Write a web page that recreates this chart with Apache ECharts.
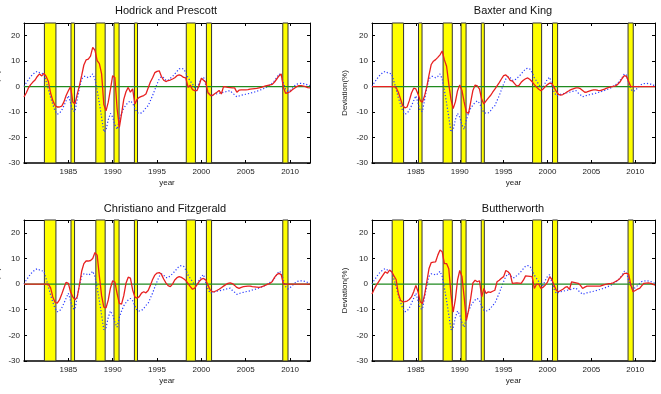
<!DOCTYPE html>
<html>
<head>
<meta charset="utf-8">
<script src="https://cdn.jsdelivr.net/npm/echarts@6/dist/echarts.min.js"></script>
<style>
  html, body { margin: 0; padding: 0; background: #fff; }
  #chart { width: 661px; height: 394px; }
</style>
</head>
<body>
<div id="chart"></div>
<script>
// quarterly data, first value = 1980Q1
const startYear = 1980;

// original series (blue dotted), same in every panel
const original = [
  0, 1.5, 2.7, 4,          // 1980
  4.8, 5.6, 6, 5.5,        // 1981
  5.2, 5, 2, -1,           // 1982
  -4.3, -7, -9.5, -10.8,   // 1983
  -10.5, -9.3, -7.5, -5.5, // 1984
  -3.6, -6.5, -9.5, -9.8,  // 1985
  -5, -0.5, 3, 4,          // 1986
  4, 3.5, 4, 5,            // 1987
  3, -1.5, -6.5, -12,      // 1988
  -17.8, -17, -13, -10.5,  // 1989
  -12, -15, -16.8, -13,    // 1990
  -10.5, -8.5, -7.2, -6.2, // 1991
  -5.6, -6.5, -8.5, -10.2, // 1992
  -10.5, -10.3, -9.5, -8.3,// 1993
  -7.5, -5.5, -3.5, -1.2,  // 1994
  1, 3, 4, 3.5,            // 1995
  2.5, 2.5, 3.3, 4,        // 1996
  5, 6, 7, 7.2,            // 1997
  6.9, 5.5, 3.5, 2.2,      // 1998
  1, -0.3, -0.5, 1.5,      // 1999
  3, 3.7, 0.5, -2,         // 2000
  -3.6, -3.3, -3, -2.8,    // 2001
  -2.6, -2.4, -2.2, -2,    // 2002
  -1.7, -1.6, -2.5, -3.2,  // 2003
  -4, -3.7, -3.4, -3.2,    // 2004
  -3, -2.8, -2.6, -2.3,    // 2005
  -2.1, -1.8, -1.5, -1.2,  // 2006
  -0.8, -0.4, 0.2, 0.7,    // 2007
  1.4, 2.3, 3.6, 5,        // 2008
  4.5, 1.5, -1, -1.9,      // 2009
  -1.4, -0.6, 0.3, 1,      // 2010
  1.2, 1.3, 1.2, 1,        // 2011
  0.6, 0.4                 // 2012
];

const hodrickPrescott = [
  -4, -2.5, -0.5, 0.8,
  1.8, 2.6, 4, 5,
  4.2, 5.2, 4, 2,
  -2.5, -5.5, -7.4, -8,
  -8, -7.7, -6, -3.5,
  -1.6, 0, -6, -6.8,
  -3, 0.4, 4.3, 8.5,
  10.5, 10.8, 12, 15.4,
  14.3, 10.2, 9, 5,
  -7, -9.5, -6.1, -1,
  4.3, 3.6, -8.7, -16,
  -10.7, -5, -2, -0.3,
  -2.2, -0.9, -6.8, -5,
  -4.2, -3.8, -3.5, -2.9,
  -0.5, 1.8, 3.5, 5.5,
  6, 6.2, 4, 2.5,
  2, 2.4, 2.6, 3,
  3.5, 4.3, 4.6, 4.3,
  3.6, 3.4, -0.3, 0.6,
  -1.2, -1.6, -1.6, 0.5,
  3.3, 2.5, 1.7, -2.5,
  -3.3, -3.5, -2.8, -2.2,
  -1.5, -2.9, 0, -0.1,
  -0.3, -0.4, -0.5, -0.5,
  -2.2, -1.4, -1.3, -1.3,
  -1.3, -1.2, -1, -0.9,
  -0.8, -0.7, -0.5, -0.3,
  0, 0.3, 0.5, 0.7,
  0.9, 1.8, 3, 4.2,
  5, -0.3, -2.6, -2.4,
  -2, -1.2, -0.6, 0,
  0.4, 0.4, 0.2, 0,
  -0.4, -0.5
];

const baxterKing = [
  0, 0, 0, 0,
  0, 0, 0, 0,
  0, 0, 0, -0.3,
  -2.2, -4.8, -7.5, -8.3,
  -8, -5.5, -2.5, -0.6,
  -0.9, -3, -5.5, -6.1,
  -3.5, 0, 4.6, 8.7,
  10, 10.6, 11.5, 12.5,
  14, 10.5, 8, 1,
  -5, -8.6, -6, -1.6,
  0.6, -1.5, -6, -10,
  -10.5, -6, -1.5, 0.6,
  0.3, -1, -5, -6.8,
  -5.6, -4.5, -3.5, -2.2,
  -1, 0.3, 1.6, 3,
  4.3, 4.6, 3.8, 2.5,
  2.2, 1.2, 0.2, 0.5,
  1.7, 2.5, 3.1, 3.4,
  2.8, 1.9, 0.8, -0.2,
  -1, -1.6, -0.9, 0,
  0.8, 1.4, 1.2, -0.3,
  -1.9, -3, -3.3, -3.1,
  -2.6, -2, -1.5, -1.1,
  -0.8, -0.5, -0.5, -0.8,
  -1.5, -2.2, -2.1, -1.8,
  -1.5, -1.3, -1.3, -1.5,
  -1.6, -1.3, -1, -0.6,
  -0.3, -0.1, 0.1, 0.3,
  0.9, 1.8, 3.2, 4.3,
  4, 2, 0, 0,
  0, 0, 0, 0,
  0, 0, 0, 0,
  0, 0
];

const christianoFitzgerald = [
  0, 0, 0, 0,
  0, 0, 0, 0,
  0, 0, 0, 0,
  -1.5, -5, -7.1, -7.4,
  -6.2, -4, -1.5, 0.7,
  0.3, -3, -5, -6.2,
  -5, -0.4, 5, 8,
  9, 9, 9.2, 10,
  12.3, 11.3, 3, -4.5,
  -9, -9.3, -6.2, -1.5,
  1.3, 0.8, -3.7, -7.5,
  -7.8, -4.5, 0.3, 2.7,
  2.3, -2.3, -5, -5.5,
  -4.9, -3.5, -3, -3.4,
  -2.5, -0.5, 1.8, 3.5,
  4.3, 4.5, 3.8, 2,
  0.5, -0.6, -1, 0,
  1.6, 2.5, 2.9, 2.6,
  2.1, 1.4, 0.2, -1,
  -2, -1.6, -0.3, 1,
  1.9, 2.2, 1.6, -0.5,
  -2.3, -3, -2.9, -2.5,
  -2, -1.4, -0.8, -0.2,
  0.3, 0.5, 0.2, -0.5,
  -1.3, -1.7, -1.3, -1,
  -0.9, -0.8, -0.8, -1,
  -1.1, -1.2, -1.3, -1.1,
  -0.8, -0.4, 0, 0.3,
  1, 2.6, 3.7, 4.2,
  3.7, 0, 0, 0,
  0, 0, 0, 0,
  0, 0, 0, 0,
  0, 0
];

const butterworth = [
  -3.9, -2, -0.4, 0.9,
  2.2, 3.5, 4.8, 4.2,
  5.5, 4.8, 3.2, 1.8,
  -3.7, -6.3, -6.9, -6.8,
  -6.6, -6, -5, -3,
  -0.5, -3, -6.9, -7.6,
  -4, 1, 6.1, 8.4,
  8.6, 8.7, 11.3, 13.3,
  12.6, 8, 8, 6,
  -4, -10.9, -6, 1.6,
  5.3, 3, -5, -14.2,
  -10.3, -5.5, 0.5, 1.5,
  0.9, 1.3, -5, -1.7,
  -3.7, -3, -3.2, -2.8,
  -2.4, 0.9, 1.5, 2.3,
  2.9, 5.3, 4.8, 3.9,
  0.3, 0.4, 0.5, 0.4,
  0.3, 1.5, 3.2, 3.1,
  3, 2.9, -1.7, 0,
  0, -1.7, -1.2, -0.4,
  0.8, 2.9, 1.8, -0.5,
  -2.4, -3, -2.5, -2,
  -1.3, -1, -2.1, 0.9,
  0.7, 0.5, 0.3, -0.5,
  -1.7, -1.2, -0.8, -0.8,
  -0.8, -0.8, -0.8, -0.8,
  -0.8, -0.5, -0.2, 0,
  0.2, 0.3, 0.5, 1,
  1.5, 2.2, 3.2, 4.2,
  4.2, 3.9, -0.4, -3,
  -2.5, -2, -1.7, -0.6,
  0.3, 0.4, 0.5, 0.3,
  0, -0.4
];

// recession bands (start, end) in years
const recessionStart = [1982.3, 1985.3, 1988.1, 1990.15, 1992.45, 1998.3, 2000.57, 2009.18];
const recessionEnd   = [1983.6, 1985.7, 1989.15, 1990.72, 1992.8, 1999.33, 2001.15, 2009.77];

const xMin = 1980, xMax = 2012.25;
const yMin = -30, yMax = 25;

const titles = ["Hodrick and Prescott", "Baxter and King", "Christiano and Fitzgerald", "Buttherworth"];
const filtered = [hodrickPrescott, baxterKing, christianoFitzgerald, butterworth];

const panels = [
  { left: 24, top: 23, width: 286, height: 140, cx: 166, ty: 5 },
  { left: 372, top: 23, width: 283, height: 140, cx: 513, ty: 5 },
  { left: 24, top: 220, width: 286, height: 141, cx: 165, ty: 203 },
  { left: 372, top: 220, width: 283, height: 141, cx: 513, ty: 203 }
];

const font = "'Liberation Sans', Arial, Helvetica, sans-serif";
const toPairs = (vals) => vals.map((v, i) => [startYear + i / 4, v]);
const bands = recessionStart.map((s, i) => [{ xAxis: s }, { xAxis: recessionEnd[i] }]);

const chart = echarts.init(document.getElementById("chart"));

const grid = [], xAxis = [], yAxis = [], series = [], graphic = [];

panels.forEach((p, g) => {
  grid.push({
    left: p.left, top: p.top, width: p.width, height: p.height,
    containLabel: false, outerBoundsMode: "none"
  });

  const tick = { show: true, inside: true, length: 3, lineStyle: { color: "#000", width: 1 } };
  // bottom axis with labels
  xAxis.push({
    type: "value", gridIndex: g, min: xMin, max: xMax, interval: 5,
    name: "year", nameLocation: "middle", nameGap: 16,
    nameTextStyle: { fontFamily: font, fontSize: 8, color: "#222" },
    axisLine: { onZero: false, lineStyle: { color: "#000", width: 1.5 } },
    axisTick: tick,
    axisLabel: {
      fontFamily: font, fontSize: 8, color: "#222", margin: 5,
      showMinLabel: false, showMaxLabel: false,
      formatter: (v) => String(v)
    },
    splitLine: { show: false }
  });
  // top mirror
  xAxis.push({
    type: "value", gridIndex: g, position: "top", min: xMin, max: xMax, interval: 5,
    axisLine: { onZero: false, lineStyle: { color: "#000", width: 1 } },
    axisTick: tick, axisLabel: { show: false }, splitLine: { show: false }
  });
  yAxis.push({
    type: "value", gridIndex: g, min: yMin, max: yMax, interval: 10,
    name: "Deviation(%)", nameLocation: "middle", nameGap: 23,
    nameTextStyle: { fontFamily: font, fontSize: 8, color: "#222" },
    axisLine: { show: true, onZero: false, lineStyle: { color: "#000", width: 1 } },
    axisTick: tick,
    axisLabel: { fontFamily: font, fontSize: 8, color: "#222", margin: 4, showMaxLabel: false },
    splitLine: { show: false }
  });
  yAxis.push({
    type: "value", gridIndex: g, position: "right", min: yMin, max: yMax, interval: 10,
    axisLine: { show: true, onZero: false, lineStyle: { color: "#000", width: 1 } },
    axisTick: tick, axisLabel: { show: false }, splitLine: { show: false }
  });

  const xi = g * 2, yi = g * 2;

  series.push({
    type: "line", xAxisIndex: xi, yAxisIndex: yi, z: 2,
    data: toPairs(original), showSymbol: false, silent: true,
    lineStyle: { color: "#2a3cff", width: 1.2, type: [1.2, 2] },
    markArea: {
      silent: true,
      label: { show: false },
      itemStyle: { color: "#ffff00", borderColor: "#333", borderWidth: 1 },
      data: bands
    }
  });
  series.push({
    type: "line", xAxisIndex: xi, yAxisIndex: yi, z: 3,
    data: [[xMin, 0], [xMax, 0]], showSymbol: false, silent: true,
    lineStyle: { color: "#1f8a1f", width: 1.1 }
  });
  series.push({
    type: "line", xAxisIndex: xi, yAxisIndex: yi, z: 4,
    data: toPairs(filtered[g]), showSymbol: false, silent: true,
    lineStyle: { color: "#e82020", width: 1.3 }
  });

  graphic.push({
    type: "text", x: p.cx, y: p.ty,
    style: { text: titles[g], font: "11px " + font, fill: "#111", align: "center", verticalAlign: "top" }
  });
});

const option = {
  animation: false,
  backgroundColor: "#fff",
  grid: grid,
  xAxis: xAxis,
  yAxis: yAxis,
  series: series,
  graphic: graphic
};

chart.setOption(option);
</script>
</body>
</html>
